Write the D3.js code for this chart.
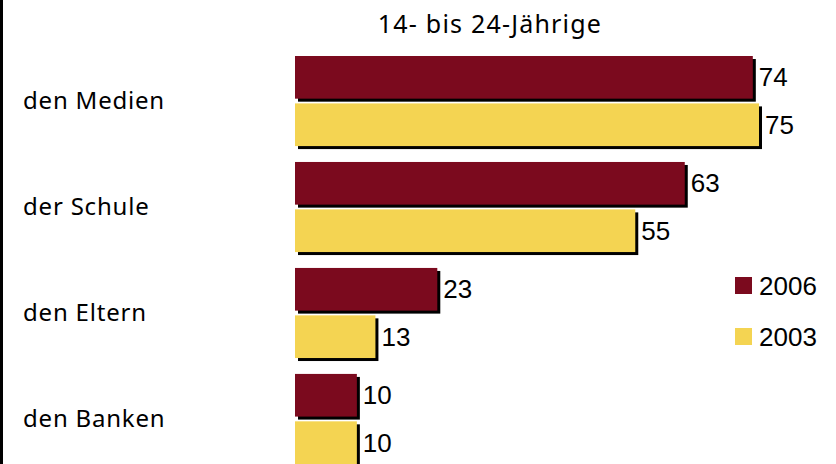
<!DOCTYPE html>
<html lang="de">
<head>
  <meta charset="UTF-8">
  <script src="https://cdnjs.cloudflare.com/ajax/libs/d3/7.8.5/d3.min.js"></script>
  <style>
    body { margin: 0; background: #fff; }
    svg { display: block; }
  </style>
  <title>14- bis 24-Jährige</title>
</head>
<body>
  <script>
    const categories = ["den Medien", "der Schule", "den Eltern", "den Banken"];
    const years = ["2006", "2003"];
    const values2006 = [74, 63, 23, 10];
    const values2003 = [75, 55, 13, 10];
    const title = "14- bis 24-Jährige";

    const w = 836;
    const h = 464;
    const colors = { "2006": "#7b0a1e", "2003": "#f4d452" };

    const svg = d3.select("body")
      .append("svg")
      .attr("width", w)
      .attr("height", h);

    // left frame line
    svg.append("line")
      .attr("x1", 1.5).attr("x2", 1.5)
      .attr("y1", 0).attr("y2", h)
      .attr("stroke", "#000")
      .attr("stroke-width", 3);

    svg.append("text")
      .attr("x", 490)
      .attr("y", 33)
      .attr("text-anchor", "middle")
      .style("font-family", "'Noto Sans', sans-serif")
      .style("font-size", "25px")
      .style("letter-spacing", "1.2px")
      .text(title);

    const rows = categories.map((c, i) => ({
      cat: c,
      vals: [
        { year: "2006", v: values2006[i] },
        { year: "2003", v: values2003[i] }
      ]
    }));

    const yScale = d3.scaleBand()
      .domain(categories)
      .range([56, 464])
      .paddingInner(0.15)
      .paddingOuter(0);

    const ySub = d3.scaleBand()
      .domain(years)
      .range([0, yScale.bandwidth()])
      .paddingInner(0.1);

    const xScale = d3.scaleLinear()
      .domain([0, 75])
      .range([295, 759]);

    const groups = svg.selectAll(".group")
      .data(rows)
      .enter()
      .append("g")
      .attr("class", "group")
      .attr("transform", d => "translate(0," + yScale(d.cat) + ")");

    groups.append("text")
      .attr("x", 23)
      .attr("y", yScale.bandwidth() / 2)
      .attr("dy", "0.35em")
      .style("font-family", "'Noto Sans', sans-serif")
      .style("font-size", "24px")
      .style("letter-spacing", "0.8px")
      .text(d => d.cat);

    const bars = groups.selectAll(".bar")
      .data(d => d.vals)
      .enter()
      .append("g")
      .attr("class", "bar");

    // drop shadow
    bars.append("rect")
      .attr("x", xScale(0) + 3)
      .attr("y", d => ySub(d.year) + 3)
      .attr("width", d => xScale(d.v) - xScale(0))
      .attr("height", ySub.bandwidth())
      .attr("fill", "#000");

    bars.append("rect")
      .attr("x", xScale(0))
      .attr("y", d => ySub(d.year))
      .attr("width", d => xScale(d.v) - xScale(0))
      .attr("height", ySub.bandwidth())
      .attr("fill", d => colors[d.year]);

    bars.append("text")
      .attr("x", d => xScale(d.v) + 6)
      .attr("y", d => ySub(d.year) + ySub.bandwidth() / 2)
      .attr("dy", "0.35em")
      .style("font-family", "'Liberation Sans', Arial, sans-serif")
      .style("font-size", "26px")
      .text(d => d.v);

    // legend
    const legend = svg.selectAll(".legend")
      .data(years)
      .enter()
      .append("g")
      .attr("class", "legend")
      .attr("transform", (d, i) => "translate(735," + (277 + i * 51) + ")");

    legend.append("rect")
      .attr("width", 17)
      .attr("height", 17)
      .attr("fill", d => colors[d]);

    legend.append("text")
      .attr("x", 24)
      .attr("y", 8.5)
      .attr("dy", "0.35em")
      .style("font-family", "'Liberation Sans', Arial, sans-serif")
      .style("font-size", "26px")
      .text(d => d);
  </script>
</body>
</html>
